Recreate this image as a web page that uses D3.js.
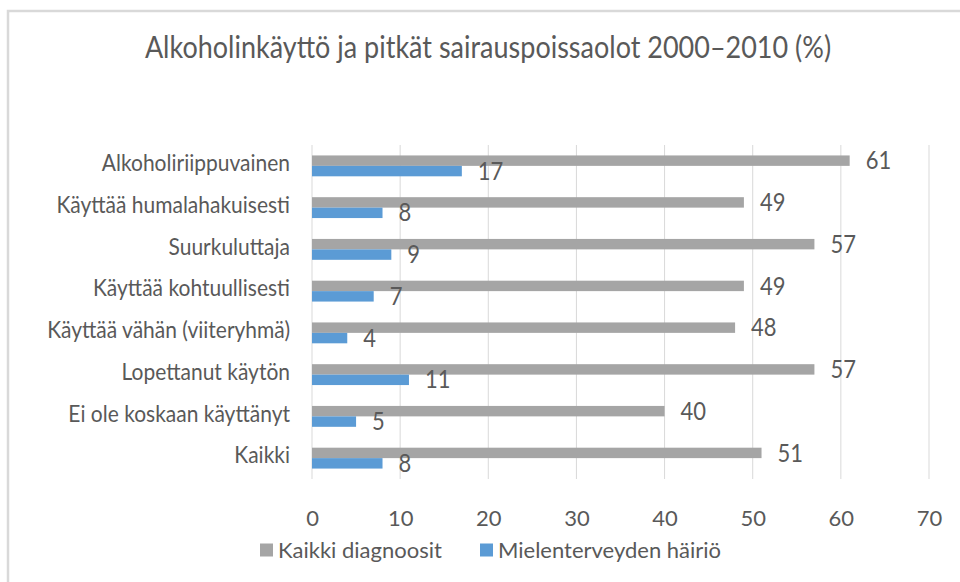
<!DOCTYPE html>
<html>
<head>
<meta charset="utf-8">
<script src="https://cdn.jsdelivr.net/npm/d3@7"></script>
<style>
  body { margin: 0; background: #fff; }
  text { font-family: Lato, "Open Sans", sans-serif; fill: #595959; }
</style>
</head>
<body>
<svg id="chart"></svg>
<script>
// data
const categories = [
  "Alkoholiriippuvainen",
  "Käyttää humalahakuisesti",
  "Suurkuluttaja",
  "Käyttää kohtuullisesti",
  "Käyttää vähän (viiteryhmä)",
  "Lopettanut käytön",
  "Ei ole koskaan käyttänyt",
  "Kaikki"
];
const allDiagnoses = [61, 49, 57, 49, 48, 57, 40, 51];
const mentalHealth = [17, 8, 9, 7, 4, 11, 5, 8];
const seriesNames = ["Kaikki diagnoosit", "Mielenterveyden häiriö"];
const xTicks = [0, 10, 20, 30, 40, 50, 60, 70];

const W = 960, H = 582;
const colors = ["#a5a5a5", "#5b9bd5"];
const margin = {top: 145, right: 31, bottom: 103, left: 312};
const width = W - margin.left - margin.right;
const height = H - margin.top - margin.bottom;
const K = 1.12; // the original text looks a bit taller than wide

// move x/y into a transform so the glyphs can be stretched vertically
function stretch(sel) {
  sel.each(function() {
    const t = d3.select(this);
    const tx = +t.attr("x") || 0, ty = +t.attr("y") || 0;
    t.attr("x", 0).attr("y", 0)
      .attr("transform", `translate(${tx},${ty}) scale(1,${K})`);
  });
}

const svg = d3.select("#chart").attr("width", W).attr("height", H);

// outer frame (only top and left edges show in the crop)
svg.append("path")
  .attr("d", `M960,11H8V582`)
  .attr("fill", "none")
  .attr("stroke", "#d9d9d9")
  .attr("stroke-width", 2.5);

svg.append("text")
  .attr("x", 488).attr("y", 58)
  .attr("text-anchor", "middle")
  .style("font-size", "27px")
  .text("Alkoholinkäyttö ja pitkät sairauspoissaolot 2000–2010 (%)")
  .call(stretch);

const chart = svg.append("g")
  .attr("transform", `translate(${margin.left},${margin.top})`);

const x = d3.scaleLinear().domain([0, 70]).range([0, width]);
const y = d3.scaleBand().domain(categories).range([0, height]).paddingInner(0.5).paddingOuter(0.25);
const inner = d3.scaleBand().domain(seriesNames).range([0, y.bandwidth()]);

// gridlines
chart.append("g")
  .selectAll("line")
  .data(xTicks)
  .join("line")
    .attr("x1", d => x(d)).attr("x2", d => x(d))
    .attr("y1", 0).attr("y2", height)
    .attr("stroke", "#d9d9d9")
    .attr("stroke-width", 1);

// x axis labels
const xAxis = d3.axisBottom(x).tickValues(xTicks).tickSize(0).tickPadding(31);
chart.append("g")
  .attr("transform", `translate(0,${height})`)
  .call(xAxis)
  .call(g => g.select(".domain").remove())
  .call(g => g.selectAll("text")
    .style("font-size", "22px")
    .attr("font-family", null)
    .attr("fill", "#595959"));

// category labels
const yAxis = d3.axisLeft(y).tickSize(0).tickPadding(22);
chart.append("g")
  .call(yAxis)
  .call(g => g.select(".domain").remove())
  .call(g => g.selectAll("text")
    .style("font-size", "21px")
    .attr("font-family", null)
    .attr("fill", "#595959")
    .attr("dy", "0.22em")
    .call(stretch));

const rows = categories.map((c, i) => ({c, vals: [allDiagnoses[i], mentalHealth[i]]}));

const group = chart.selectAll(".row")
  .data(rows)
  .join("g")
    .attr("class", "row")
    .attr("transform", d => `translate(0,${y(d.c)})`);

group.selectAll("rect")
  .data(d => d.vals.map((v, j) => ({v, s: seriesNames[j], j})))
  .join("rect")
    .attr("x", x(0))
    .attr("y", d => inner(d.s))
    .attr("width", d => x(d.v) - x(0))
    .attr("height", inner.bandwidth())
    .attr("fill", d => colors[d.j]);

group.selectAll(".lbl")
  .data(d => d.vals.map((v, j) => ({v, s: seriesNames[j], j})))
  .join("text")
    .attr("class", "lbl")
    .attr("x", d => x(d.v) + 16)
    .attr("y", d => inner(d.s) + inner.bandwidth() / 2)
    .attr("dy", "0.35em")
    .style("font-size", "22px")
    .text(d => d.v)
    .call(stretch);

// legend
const legend = svg.append("g").attr("transform", "translate(0,550)");
const legendX = [260, 480];
seriesNames.forEach((name, i) => {
  legend.append("rect")
    .attr("x", legendX[i]).attr("y", -6.5)
    .attr("width", 13).attr("height", 13)
    .attr("fill", colors[i]);
  legend.append("text")
    .attr("x", legendX[i] + 18).attr("y", 0)
    .attr("dy", "0.35em")
    .style("font-size", "22px")
    .text(name);
});
</script>
</body>
</html>
